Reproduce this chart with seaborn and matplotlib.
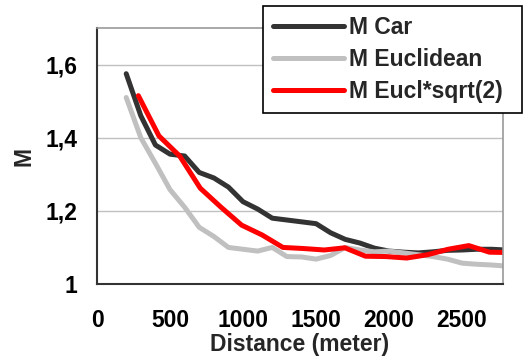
import numpy as np
import pandas as pd
import matplotlib
matplotlib.use("Agg")
import matplotlib.pyplot as plt
import seaborn as sns
from matplotlib.ticker import FixedLocator, FixedFormatter
from matplotlib.legend_handler import HandlerLine2D
from matplotlib.lines import Line2D

# ---- data ----
dist = [200, 300, 400, 500, 600, 700, 800, 900, 1000, 1100, 1200, 1300, 1400,
        1500, 1600, 1700, 1800, 1900, 2000, 2100, 2200, 2300, 2400, 2500,
        2600, 2700, 2800]
m_car = [1.575, 1.46, 1.38, 1.355, 1.35, 1.305, 1.29, 1.265, 1.225, 1.205,
         1.18, 1.175, 1.17, 1.165, 1.14, 1.122, 1.112, 1.098, 1.09, 1.087,
         1.085, 1.088, 1.092, 1.093, 1.095, 1.095, 1.093]
m_eucl = [1.51, 1.40, 1.33, 1.258, 1.21, 1.155, 1.13, 1.10, 1.095, 1.09,
          1.10, 1.075, 1.074, 1.068, 1.078, 1.10, 1.093, 1.088, 1.09, 1.085,
          1.08, 1.075, 1.068, 1.057, 1.054, 1.052, 1.049]
dist_sqrt2 = [283, 424, 566, 707, 849, 990, 1131, 1273, 1414, 1556, 1697,
              1838, 1980, 2121, 2263, 2404, 2546, 2687, 2828]
m_eucl_sqrt2 = [1.515, 1.405, 1.35, 1.262, 1.21, 1.161, 1.134, 1.10, 1.097,
                1.093, 1.099, 1.076, 1.075, 1.071, 1.08, 1.095, 1.105, 1.087,
                1.086]
series_names = ["M Car", "M Euclidean", "M Eucl*sqrt(2)"]
x_ticks = [0, 500, 1000, 1500, 2000, 2500]
x_tick_labels = ["0", "500", "1000", "1500", "2000", "2500"]
y_ticks = [1.0, 1.2, 1.4, 1.6]
y_tick_labels = ["1", "1,2", "1,4", "1,6"]

df = pd.concat([
    pd.DataFrame({"Distance": dist, "M": m_car, "series": series_names[0]}),
    pd.DataFrame({"Distance": dist, "M": m_eucl, "series": series_names[1]}),
    pd.DataFrame({"Distance": dist_sqrt2, "M": m_eucl_sqrt2, "series": series_names[2]}),
], ignore_index=True)

sns.set_style("white")
plt.rcParams['font.family'] = ['Liberation Sans', 'DejaVu Sans']
plt.rcParams['font.weight'] = 'bold'

FS = 16.5

fig = plt.figure(figsize=(5.23, 3.61), dpi=100)
ax = fig.add_axes([97/523, 1-284/361, (503-97)/523, (284-28)/361])

palette = {series_names[0]: "#333333", series_names[1]: "#c0c0c0",
           series_names[2]: "#ff0000"}
sns.lineplot(data=df, x="Distance", y="M", hue="series", palette=palette,
             hue_order=series_names, sort=False, estimator=None,
             linewidth=3.6, ax=ax, legend=True)
for ln in ax.get_lines():
    ln.set_solid_capstyle("round")
    ln.set_solid_joinstyle("round")

ax.set_xlim(0, 2780)
ax.set_ylim(1.0, 1.7)
ax.xaxis.set_major_locator(FixedLocator(x_ticks))
ax.xaxis.set_major_formatter(FixedFormatter(x_tick_labels))
ax.yaxis.set_major_locator(FixedLocator(y_ticks))
ax.yaxis.set_major_formatter(FixedFormatter(y_tick_labels))
ax.grid(axis="y", color="#c0c0c0", linewidth=1.0)
ax.grid(axis="x", visible=False)
ax.set_axisbelow(True)

ax.tick_params(axis="both", which="major", direction="out", labelsize=FS,
               colors="#333333", labelcolor="black", width=1.2)
ax.tick_params(axis="x", length=6, pad=12)
ax.tick_params(axis="y", length=6, pad=8)
for lab in ax.get_xticklabels() + ax.get_yticklabels():
    lab.set_fontweight("bold")

for side in ["left", "bottom"]:
    ax.spines[side].set_color("#333333")
    ax.spines[side].set_linewidth(1.5)
for side in ["top", "right"]:
    ax.spines[side].set_color("#999999")
    ax.spines[side].set_linewidth(1.2)

ax.set_xlabel("Distance (meter)", fontsize=FS, fontweight="bold", labelpad=1)
ax.set_ylabel("M", fontsize=FS, fontweight="bold", labelpad=7)


class ShiftedLineHandler(HandlerLine2D):
    """Legend line drawn with a small gap on its left side."""
    def __init__(self, shift, **kw):
        super().__init__(**kw)
        self.shift = shift

    def create_artists(self, legend, orig_handle, xdescent, ydescent,
                       width, height, fontsize, trans):
        arts = super().create_artists(legend, orig_handle, xdescent, ydescent,
                                      width, height, fontsize, trans)
        for a in arts:
            if isinstance(a, Line2D):
                xd = list(a.get_xdata())
                if len(xd) == 2:
                    a.set_xdata([xd[0] + self.shift, xd[1]])
                a.set_solid_capstyle("round")
                a.set_linewidth(3.6)
        return arts


handles, labels = ax.get_legend_handles_labels()
hmap = {h: ShiftedLineHandler(shift=8.5) for h in handles}
top = 1 - 6/361
leg = ax.legend(handles, labels, loc="upper left",
                bbox_to_anchor=(263/523, 0.0, 259/523, top),
                bbox_transform=fig.transFigure, mode="expand",
                frameon=True, fancybox=False, framealpha=1, edgecolor="black",
                prop={"weight": "bold", "size": FS}, handler_map=hmap,
                handlelength=3.1, handletextpad=0.25, labelspacing=0.4,
                borderpad=0.42, borderaxespad=0)
leg.get_frame().set_linewidth(1.2)
leg.set_zorder(10)

fig.savefig("out.png", dpi=100)
